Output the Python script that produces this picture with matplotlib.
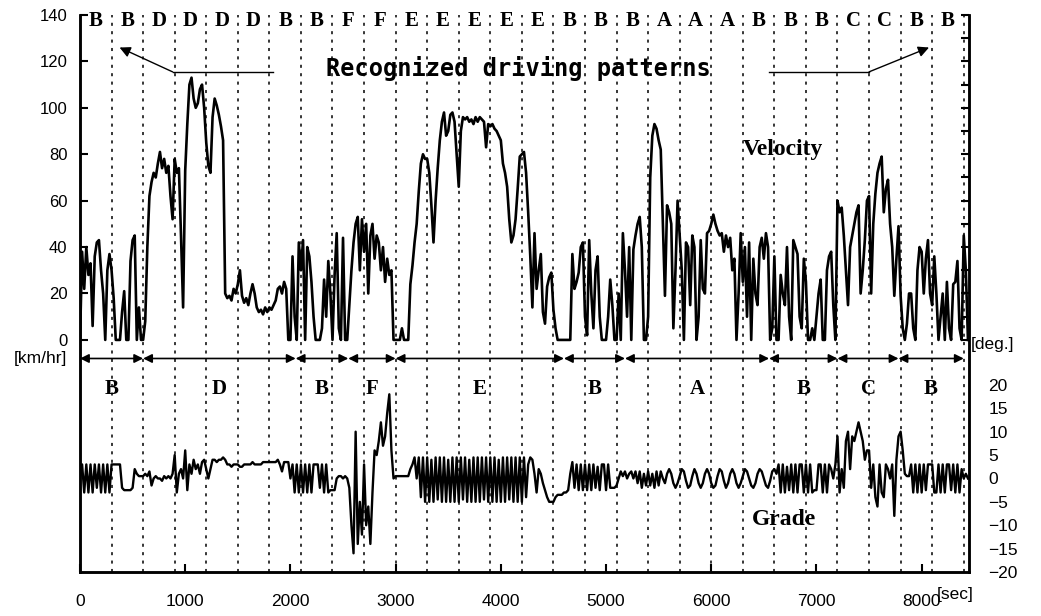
import numpy as np
import matplotlib
matplotlib.use('Agg')
import matplotlib.pyplot as plt
from matplotlib.ticker import FixedLocator

# sampled every 20 s, one row per 300 s window
dt = 20
velocity = [
    0, 38, 22, 40, 28, 33, 6, 36, 42, 43, 30, 20, 0, 30, 37,
    30, 18, 0, 0, 0, 12, 21, 0, 0, 34, 43, 45, 0, 14, 0,
    0, 8, 40, 62, 68, 72, 70, 76, 81, 74, 78, 72, 75, 62, 52,
    78, 72, 74, 45, 14, 73, 93, 110, 113, 104, 100, 102, 108, 110, 100,
    85, 75, 72, 96, 104, 101, 97, 92, 86, 20, 18, 19, 17, 22, 20,
    24, 30, 19, 16, 18, 15, 20, 24, 20, 14, 12, 13, 11, 14, 12,
    14, 13, 15, 17, 22, 23, 20, 25, 22, 0, 0, 36, 10, 0, 42,
    30, 43, 0, 40, 36, 25, 10, 0, 0, 0, 5, 26, 10, 34, 20,
    0, 28, 46, 5, 0, 44, 0, 0, 15, 30, 42, 50, 53, 30, 52,
    38, 50, 20, 45, 50, 35, 45, 42, 30, 40, 25, 35, 28, 30, 0,
    0, 0, 0, 5, 0, 0, 0, 24, 32, 42, 50, 64, 76, 80, 78,
    78, 72, 58, 42, 60, 74, 86, 94, 98, 88, 90, 97, 98, 94, 80,
    66, 90, 96, 95, 96, 94, 95, 93, 96, 94, 96, 95, 94, 83, 93,
    92, 93, 91, 90, 88, 86, 76, 72, 66, 52, 42, 45, 52, 65, 79,
    80, 81, 72, 55, 36, 14, 46, 22, 30, 37, 12, 7, 23, 27, 29,
    13, 5, 0, 0, 0, 0, 0, 0, 0, 37, 22, 25, 29, 40, 42,
    10, 2, 43, 20, 5, 30, 36, 10, 0, 0, 0, 10, 26, 15, 0,
    0, 20, 0, 46, 30, 10, 40, 0, 39, 45, 50, 53, 40, 0, 0,
    10, 70, 88, 93, 91, 86, 82, 50, 19, 58, 55, 50, 5, 30, 60,
    45, 30, 0, 42, 40, 15, 45, 40, 0, 10, 43, 22, 20, 46, 47,
    50, 54, 50, 47, 45, 46, 38, 45, 40, 44, 30, 35, 0, 20, 46,
    25, 40, 10, 42, 0, 35, 20, 15, 40, 44, 35, 46, 40, 0, 5,
    36, 0, 0, 28, 20, 15, 40, 10, 0, 43, 40, 37, 10, 5, 35,
    25, 0, 0, 5, 0, 10, 20, 26, 0, 0, 30, 36, 38, 15, 0,
    60, 55, 57, 45, 30, 15, 40, 45, 50, 55, 58, 20, 30, 43, 60,
    62, 20, 50, 63, 72, 76, 79, 55, 65, 69, 50, 40, 19, 35, 49,
    19, 5, 0, 7, 20, 20, 5, 0, 30, 40, 38, 20, 35, 43, 20,
    15, 36, 20, 0, 10, 20, 0, 25, 5, 0, 24, 25, 34, 5, 0,
    45, 30, 0,
]
grade = [
    0, 3, -3, 3, -3, 3, -3, 3, -2, 3, -3, 3, -3, 3, -3,
    3, 3, 3, 3, 3, -2, -2.5, -2.5, -2.5, -2.5, -2, 2, 1, 0.5, 0.5,
    0.5, 1, 0.5, 1.5, -1.5, 0, 0.5, 0, 0, -0.5, 0.5, 0, 0.5, 0, 1,
    5, -3, 1, 2, 0, 6, -2.5, 3, 1, 4, 2, 3, 1, 3.5, 4,
    2, 0, 2, 4, 4, 3.5, 4, 4, 4.5, 4, 3, 3, 2.5, 3, 3,
    3, 2.5, 2.5, 3, 3, 3, 3, 3.5, 3, 3, 3, 3, 3.5, 3.5, 3.5,
    3.5, 3.5, 3.5, 3.5, 4, 3, 1.5, 3.5, 3.5, 3.5, 0, 3, -3, 3, -3,
    3, -3, 3, -3, 3, -3, 3, 3, 3, -2, 3, -3, 3, -3, -2.5,
    -2.5, -2.5, 0, 0.5, 0.5, 0, 0.5, 0, -2, -10, -16, 10, -14, -5, -12,
    3, -10, -6, -14, -3, 6, 5, 8, 12, 7, 9, 14, 18, 6, 0,
    0.5, 0.5, 0.5, 0.5, 0.5, 0.5, 0.5, 2, 3, 4.5, 0, 4.5, -4, 4.5, -5,
    4.5, -5, 4, -5, 4.5, -4.5, 4.5, -5, 4.5, -5, 4, -5, 4.5, -5, 4.5,
    -5, 4.5, -4.5, 4.5, -5, 4, -5, 4.5, -5, 4.5, -5, 4.5, -4.5, 4.5, -5,
    4.5, -5, 4.5, -5, 4, -5, 4.5, -5, 4.5, -4.5, 4.5, -5, 4.5, -5, 4.5,
    -5, 4.5, -4, 3, 4.5, 4, 1, -3, 2, 1, -1, -2.5, -4, -5, -5,
    -5, -4, -3.5, -3.5, -3.5, -3, -3, -2.5, 1, 3.5, -2, 3, -2.5, 3, -2.5,
    3, -2.5, 3, -2.5, 3, -2, 2.5, -2.5, 3, 3, -2.5, 3, -2, -2, -2,
    -1.5, 0, 1.5, 0.5, 1.5, 0, 1, 1.5, 0, 1.5, -1, 1.5, -2, 1, -1.5,
    1.5, -1.5, 1, -2, 1.5, -1.5, 1.5, 0, -1, 1, 2, 1, -1, -2, -1,
    0.5, 2, 1.5, -0.5, -2, -1.5, 0.5, 2, 1, -1, -2, -1, 1, 2, 1,
    -1, -2, -1.5, 0.5, 2, 1.5, -0.5, -2, -1, 1, 2, 1, -1, -2, -1,
    0.5, 2, 1.5, 0, -1.5, -2, -1, 1, 2, 1.5, 0, -1.5, -2, -0.5, 1.5,
    2, 1, 3, -3, 3, -3, 2.5, -2.5, 3, -3, 3, -3, 3, 3, -3,
    3, -3, 3, -3, -2.5, -2.5, 3, 3, -3, 3, -3, 3, 2, 0, 3,
    9, -3, 2, -2, 8, 10, 2, 9, 8, 10, 12, 10, 8, 4, 6,
    6, -2, 3, -4, -6, 3, -3, -4, 3, 2, 0, 3, -8, 4, 9,
    10, 6, 1, 0.5, 0.5, 3, -3, 3, -3, 3, -3, 3, -2.5, 3, 3,
    3, -3, -3, 3, -3, 3, -3, 3, 3, -2.5, 3, -3, 3, -3, 2,
    0, 1, 0,
]

window = 300
window_labels = ['B', 'B', 'D', 'D', 'D', 'D', 'B', 'B', 'F', 'F',
                 'E', 'E', 'E', 'E', 'E', 'B', 'B', 'B', 'A', 'A',
                 'A', 'B', 'B', 'B', 'C', 'C', 'B', 'B']
segment_labels = ['B', 'D', 'B', 'F', 'E', 'B', 'A', 'B', 'C', 'B']
segment_edges = [0, 600, 2050, 2550, 3000, 4600, 5180, 6550, 7200, 7780, 8400]

vel_ticks = [0, 20, 40, 60, 80, 100, 120, 140]
grade_ticks = [-20, -15, -10, -5, 0, 5, 10, 15, 20]
time_ticks = [0, 1000, 2000, 3000, 4000, 5000, 6000, 7000, 8000]

sans = 'Liberation Sans'
serif = 'Liberation Serif'

t_vel = np.arange(len(velocity)) * dt
t_grade = np.arange(len(grade)) * dt

fig = plt.figure(figsize=(10.41, 6.16), dpi=100)
ax = fig.add_axes([80 / 1041, 44 / 616, 889 / 1041, 557 / 616])
ax.plot(t_vel, velocity, color='black', lw=1.9, zorder=3)
ax.set_xlim(0, 8450)
ax.set_ylim(-100, 140)

ax2 = ax.twinx()
ax2.plot(t_grade, grade, color='black', lw=1.7, zorder=3)
ax2.set_ylim(-20, 99.1)

for a in (ax, ax2):
    a.spines['top'].set_visible(False)
    for s in ('left', 'right', 'bottom'):
        a.spines[s].set_linewidth(1.8)

# window boundaries
for k in range(1, len(window_labels) + 1):
    ax.axvline(k * window, color='black', lw=1.1, ls=(0, (2, 3.5)), zorder=1)

# velocity ticks
ax.set_yticks(vel_ticks)
ax.yaxis.set_minor_locator(FixedLocator([10, 30, 50, 70, 90, 110, 130]))
ax.tick_params(axis='y', which='major', direction='in', left=True, right=True,
               length=6, width=1.5, labelsize=12, pad=9)
ax.tick_params(axis='y', which='minor', direction='in', left=False, right=True,
               length=6, width=1.5)
ax.set_xticks(time_ticks)
ax.tick_params(axis='x', direction='in', length=6, width=1.5, labelsize=12.5, pad=16)
for lab in ax.get_xticklabels() + ax.get_yticklabels():
    lab.set_family(sans)

# grade ticks
ax2.set_yticks(grade_ticks)
ax2.yaxis.set_minor_locator(FixedLocator([-20, -10, 0, 10, 20]))
ax2.tick_params(axis='y', which='major', length=0, labelsize=12.5, pad=14)
ax2.tick_params(axis='y', which='minor', direction='in', left=True, right=True,
                length=6, width=1.5)
for lab in ax2.get_yticklabels():
    lab.set_family(sans)

# recognized pattern per window
for k, lab in enumerate(window_labels):
    ax.text(k * window + window / 2, 137.5, lab, ha='center', va='center',
            fontsize=15, fontweight='bold', family=serif)

# segment arrows and labels
for k, lab in enumerate(segment_labels):
    x0, x1 = segment_edges[k], segment_edges[k + 1]
    ax.annotate('', xy=(x1, -8), xytext=(x0, -8),
                arrowprops=dict(arrowstyle='<|-|>', color='black', lw=1.2,
                                mutation_scale=13, shrinkA=0, shrinkB=0))
    ax.text((x0 + x1) / 2, -21, lab, ha='center', va='center',
            fontsize=15, fontweight='bold', family=serif)

ax.text(4170, 117, 'Recognized driving patterns', ha='center', va='center',
        fontsize=17, fontweight='bold', family='DejaVu Sans Mono')
ax.plot([880, 1830], [115.5, 115.5], color='black', lw=1)
ax.annotate('', xy=(376, 126), xytext=(880, 115.5),
            arrowprops=dict(arrowstyle='-|>', color='black', lw=1,
                            mutation_scale=16, shrinkA=0, shrinkB=0))
ax.plot([6550, 7500], [115.5, 115.5], color='black', lw=1)
ax.annotate('', xy=(8070, 126), xytext=(7500, 115.5),
            arrowprops=dict(arrowstyle='-|>', color='black', lw=1,
                            mutation_scale=16, shrinkA=0, shrinkB=0))

ax.text(6680, 82, 'Velocity', ha='center', va='center', fontsize=17,
        fontweight='bold', family=serif)
ax2.text(6690, -8.7, 'Grade', ha='center', va='center', fontsize=17,
         fontweight='bold', family=serif)

fig.text(40 / 1041, 1 - 358 / 616, '[km/hr]', ha='center', va='center',
         fontsize=12.5, family=sans)
fig.text(971 / 1041, 1 - 345 / 616, '[deg.]', ha='left', va='center',
         fontsize=12.5, family=sans)
fig.text(937 / 1041, 1 - 594 / 616, '[sec]', ha='left', va='center',
         fontsize=12.5, family=sans)

fig.savefig('out.png', dpi=100)
